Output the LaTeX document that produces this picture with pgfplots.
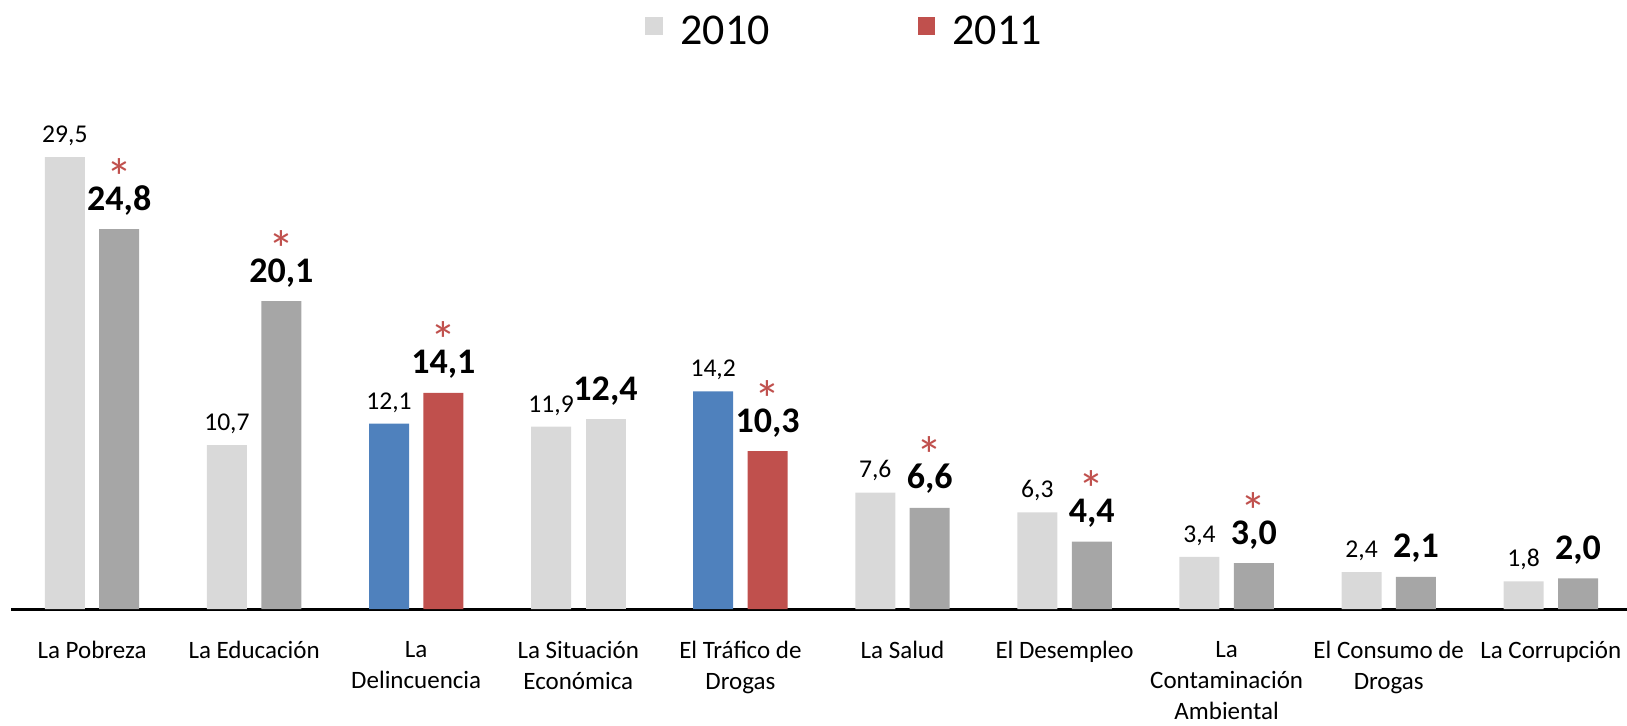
\documentclass[border=0pt]{standalone}
\usepackage{pgfplots}
\pgfplotsset{compat=1.18}
\usepackage{fontspec}
\setmainfont{Carlito}
\definecolor{lgray}{HTML}{D9D9D9}
\definecolor{dgray}{HTML}{A6A6A6}
\definecolor{cblue}{HTML}{4F81BD}
\definecolor{cred}{HTML}{C0504D}
\pgfplotsset{
  lab10/.style={nodes near coords, nodes near coords style={font=\fontsize{12.8}{15}\selectfont, anchor=base, inner sep=0pt, yshift=7.3pt, text=black}},
  lab11/.style={nodes near coords, nodes near coords style={font=\fontsize{18}{20}\selectfont\bfseries, anchor=base, inner sep=0pt, yshift=9.5pt, text=black}},
  sq/.style={legend image code/.code={\fill[##1] (0pt,-1.6pt) rectangle (8.8pt,7.2pt); \path (15.5pt,0pt);}}
}
\begin{document}
\begin{tikzpicture}
\useasboundingbox (-5.5pt,-58pt) rectangle (808pt,304.5pt);
\begin{axis}[
  at={(0,0)}, anchor=south west,
  scale only axis, width=808pt, height=304.5pt,
  xmin=-0.5, xmax=9.47, ymin=0, ymax=39.75,
  axis x line*=bottom, axis y line=none,
  x axis line style={line width=1.5pt},
  xtick={0,...,9}, major tick length=0pt, ytick=\empty,
  xticklabels={La Pobreza, La Educación, La\\Delincuencia, La Situación\\Económica, El Tráfico de\\Drogas, La Salud, El Desempleo, La\\Contaminación\\Ambiental, El Consumo de\\Drogas, La Corrupción},
  xticklabel style={align=center, font=\fontsize{12.5}{15.6}\selectfont, yshift=-14pt, inner sep=2pt},
  ybar, bar width=20pt, clip=false,
  /pgf/number format/fixed, /pgf/number format/fixed zerofill,
  /pgf/number format/precision=1, /pgf/number format/use comma,
  /pgf/number format/assume math mode=true,
  legend style={at={(0.5165,0.988)}, anchor=north, draw=none, fill=none, legend columns=2,
    font=\fontsize{22}{26}\selectfont,
    /tikz/every even column/.append style={column sep=72pt}},
]
% 2010 light gray
\addplot[fill=lgray, draw=none, bar shift=-13.6pt, lab10, sq] coordinates {(0,29.5) (1,10.7) (3,11.9) (5,7.6) (6,6.3) (7,3.4) (8,2.4) (9,1.8)};
\addlegendentry{2010}
% 2011 red
\addplot[fill=cred, draw=none, bar shift=13.6pt, lab11, sq] coordinates {(2,14.1) (4,10.3)};
\addlegendentry{2011}
% 2010 blue
\addplot[fill=cblue, draw=none, bar shift=-13.6pt, lab10, forget plot] coordinates {(2,12.1) (4,14.2)};
% 2011 dark gray
\addplot[fill=dgray, draw=none, bar shift=13.6pt, lab11, forget plot] coordinates {(0,24.8) (1,20.1) (5,6.6) (6,4.4) (7,3.0) (8,2.1) (9,2.0)};
% 2011 light gray
\addplot[fill=lgray, draw=none, bar shift=13.6pt, lab11, forget plot] coordinates {(3,12.4)};
% significance asterisks
\addplot[draw=none, fill=none, bar shift=13.6pt, forget plot,
  nodes near coords={*}, nodes near coords style={font=\fontsize{26}{28}\selectfont, text=cred, anchor=base, inner sep=0pt, yshift=17pt}]
  coordinates {(0,24.8) (1,20.1) (2,14.1) (4,10.3) (5,6.6) (6,4.4) (7,3.0)};
\end{axis}
\end{tikzpicture}
\end{document}
